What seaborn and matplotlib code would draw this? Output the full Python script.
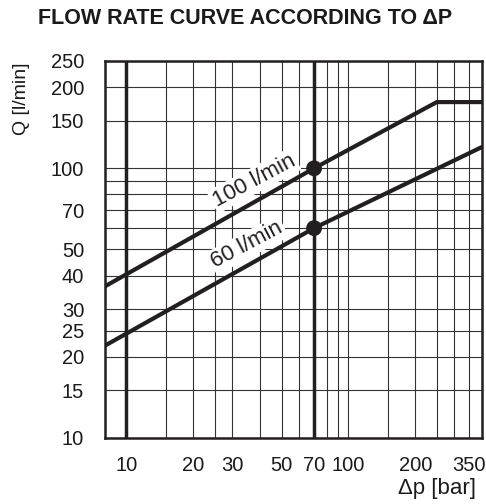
"""Flow rate curve according to delta p (log-log chart)."""
import matplotlib
matplotlib.use("Agg")
import matplotlib.pyplot as plt
from matplotlib.ticker import NullFormatter
import seaborn as sns
import pandas as pd

# curve vertices
dp_100 = [8, 70, 250, 400]
q_100 = [36.5, 100, 176, 176]
dp_60 = [8, 70, 400]
q_60 = [22, 60, 120]
marker_dp = [70, 70]
marker_q = [100, 60]

x_ticks = [10, 20, 30, 50, 70, 100, 200, 350]
x_minor = [15, 25, 40, 60, 80, 90, 150, 250, 300]
y_ticks = [10, 15, 20, 25, 30, 40, 50, 70, 100, 150, 200, 250]
y_minor = [60, 80, 90]
thick_dp = [10, 70]

INK = "#231f20"

sns.set_style("white")
plt.rcParams["font.family"] = ["Liberation Sans", "DejaVu Sans"]

fig = plt.figure(figsize=(4.86, 5.04), dpi=100)
ax = fig.add_axes([0.216, 0.131, 0.776, 0.748])
ax.set_xscale("log")
ax.set_yscale("log")
ax.set_xlim(8, 400)
ax.set_ylim(10, 250)

# grid
ax.set_xticks(x_ticks)
ax.set_xticklabels([str(v) for v in x_ticks])
ax.set_xticks(x_minor, minor=True)
ax.set_yticks(y_ticks)
ax.set_yticklabels([str(v) for v in y_ticks])
ax.set_yticks(y_minor, minor=True)
ax.xaxis.set_minor_formatter(NullFormatter())
ax.yaxis.set_minor_formatter(NullFormatter())
ax.grid(True, which="both", color="#333333", lw=0.8)
ax.set_axisbelow(True)
ax.tick_params(which="both", length=0, labelsize=14.5, colors="#1a1a1a")
ax.tick_params(axis="x", pad=13)
ax.tick_params(axis="y", pad=15)
for v in thick_dp:
    ax.axvline(v, color=INK, lw=2.5, zorder=2)

curves = pd.concat([
    pd.DataFrame({"dp": dp_100, "q": q_100, "flow": "100 l/min"}),
    pd.DataFrame({"dp": dp_60, "q": q_60, "flow": "60 l/min"}),
])
sns.lineplot(data=curves, x="dp", y="q", units="flow", estimator=None,
             color=INK, lw=3, ax=ax, zorder=4, sort=False)
sns.scatterplot(x=marker_dp, y=marker_q, color=INK, s=130, ax=ax,
                zorder=5, edgecolor="none")

box = dict(facecolor="white", edgecolor="none", pad=1.5)
ax.text(37.5, 90, "100 l/min", rotation=28, ha="center", va="center",
        fontsize=16, color=INK, bbox=box, zorder=3)
ax.text(35, 52, "60 l/min", rotation=28, ha="center", va="center",
        fontsize=16, color=INK, bbox=box, zorder=3)

for s in ax.spines.values():
    s.set_color(INK)
    s.set_linewidth(1.8)

ax.set_xlabel("Δp [bar]", fontsize=16, ha="right", color="#1a1a1a")
ax.xaxis.set_label_coords(0.985, -0.105)
ax.set_ylabel("Q [l/min]", fontsize=14, color="#1a1a1a")
ax.yaxis.set_label_coords(-0.2, 0.9)

fig.text(0.505, 0.964, "FLOW RATE CURVE ACCORDING TO ΔP", ha="center",
         va="center", fontsize=15.5, fontweight="bold", color="#1a1a1a")

fig.savefig("out.png", dpi=100)
plt.close(fig)
